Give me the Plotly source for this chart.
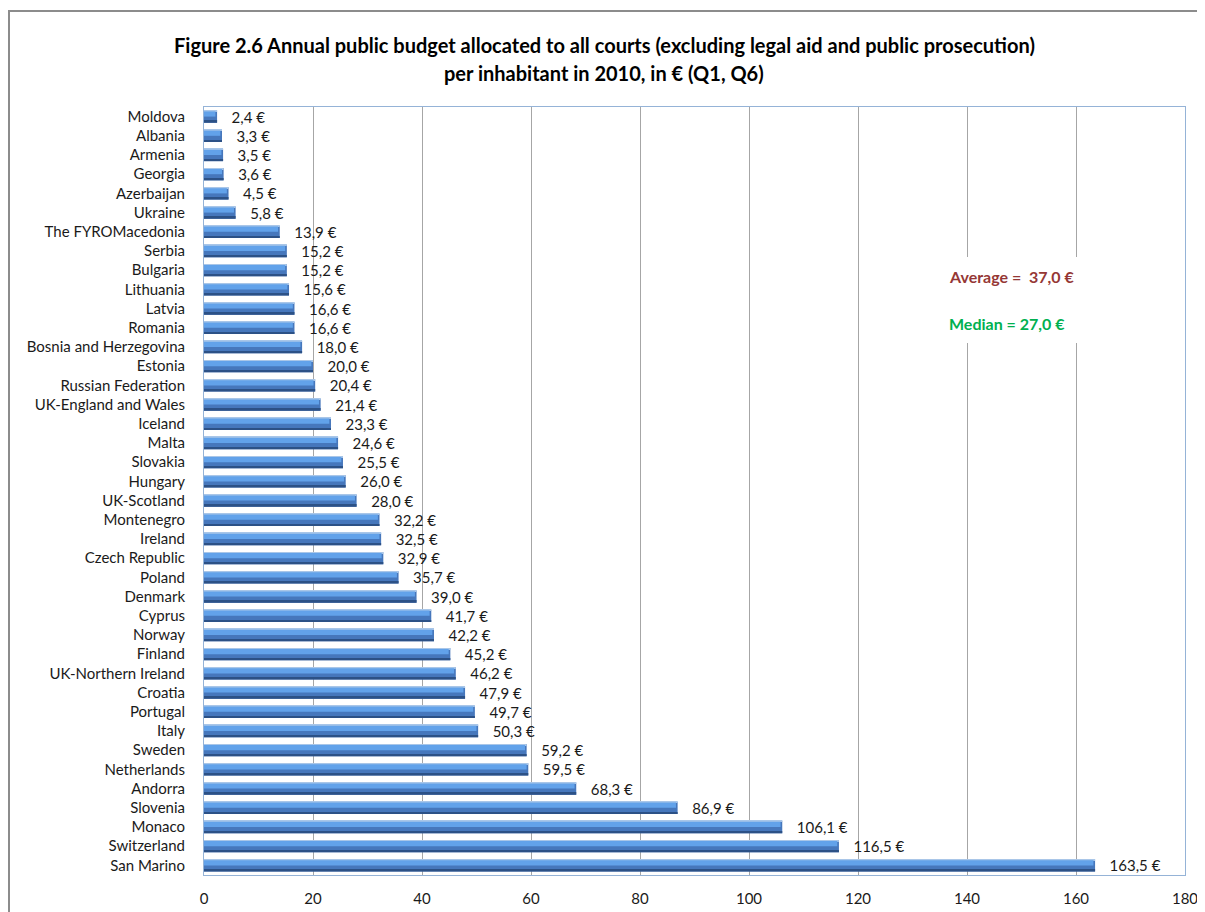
import plotly.graph_objects as go

countries = ["Moldova", "Albania", "Armenia", "Georgia", "Azerbaijan", "Ukraine",
             "The FYROMacedonia", "Serbia", "Bulgaria", "Lithuania", "Latvia", "Romania",
             "Bosnia and Herzegovina", "Estonia", "Russian Federation", "UK-England and Wales",
             "Iceland", "Malta", "Slovakia", "Hungary", "UK-Scotland", "Montenegro", "Ireland",
             "Czech Republic", "Poland", "Denmark", "Cyprus", "Norway", "Finland",
             "UK-Northern Ireland", "Croatia", "Portugal", "Italy", "Sweden", "Netherlands",
             "Andorra", "Slovenia", "Monaco", "Switzerland", "San Marino"]
values = [2.4, 3.3, 3.5, 3.6, 4.5, 5.8, 13.9, 15.2, 15.2, 15.6, 16.6, 16.6, 18.0, 20.0, 20.4,
          21.4, 23.3, 24.6, 25.5, 26.0, 28.0, 32.2, 32.5, 32.9, 35.7, 39.0, 41.7, 42.2, 45.2,
          46.2, 47.9, 49.7, 50.3, 59.2, 59.5, 68.3, 86.9, 106.1, 116.5, 163.5]
x_ticks = [0, 20, 40, 60, 80, 100, 120, 140, 160, 180]
average_text = "Average =  37,0 €"
median_text = "Median = 27,0 €"
title_line1 = "Figure 2.6 Annual public budget allocated to all courts (excluding legal aid and public prosecution)"
title_line2 = "per inhabitant in 2010, in € (Q1, Q6)"

labels = ["\u00a0\u00a0\u00a0" + f"{v:.1f}".replace(".", ",") + " €" for v in values]

FONT = "Lato, Liberation Sans, sans-serif"

# The page body has an 8px margin, so the figure is 8px smaller.
# Helpers map page pixels (plot area l=204, r=1185, t=107, b=875) to paper coords.
def px_x(p):
    return (p - 204) / 981

def px_y(p):
    return (875 - p) / 768

fig = go.Figure()
# main bar body
fig.add_trace(go.Bar(
    y=countries, x=values, orientation="h",
    width=0.64, offset=-0.32,
    marker=dict(color="#4677BC", line=dict(width=0)),
    text=labels, textposition="outside", cliponaxis=False, constraintext="none",
    textfont=dict(family=FONT, size=15, color="#1A1A1A"),
    hoverinfo="skip", showlegend=False,
))
# top light edge
fig.add_trace(go.Bar(
    y=countries, x=values, orientation="h",
    width=0.05, offset=-0.32,
    marker=dict(color="#A9C6E8", line=dict(width=0)),
    hoverinfo="skip", showlegend=False,
))
# bright band
fig.add_trace(go.Bar(
    y=countries, x=[v - 0.3 for v in values], orientation="h",
    width=0.27, offset=-0.27,
    marker=dict(color="#62A2EA", line=dict(width=0)),
    hoverinfo="skip", showlegend=False,
))
# dark bottom edge
fig.add_trace(go.Bar(
    y=countries, x=values, orientation="h",
    width=0.1, offset=0.22,
    marker=dict(color="#2C5186", line=dict(width=0)),
    hoverinfo="skip", showlegend=False,
))

fig.update_layout(
    width=1197, height=904,
    margin=dict(l=196, r=20, t=99, b=37),
    paper_bgcolor="white", plot_bgcolor="white",
    barmode="overlay",
    font=dict(family=FONT, size=15, color="#1A1A1A"),
    xaxis=dict(range=[0, 180], tickvals=x_ticks, showgrid=True, gridcolor="#A6A6A6", gridwidth=1,
               showline=True, linecolor="#95B3D7", linewidth=1, mirror=True, zeroline=False,
               ticks="", ticklabelstandoff=10, tickfont=dict(size=15), automargin=False),
    yaxis=dict(autorange="reversed", showgrid=False, showline=True, linecolor="#95B3D7",
               linewidth=1, mirror=True, ticks="", ticklabelstandoff=15, tickfont=dict(size=15),
               automargin=False),
    shapes=[
        dict(type="rect", xref="paper", yref="paper", x0=px_x(9), x1=1.3, y0=-0.2, y1=px_y(11),
             line=dict(color="#8C8C8C", width=2), fillcolor="rgba(0,0,0,0)", layer="below"),
        dict(type="rect", xref="paper", yref="paper", x0=px_x(940), x1=px_x(1085),
             y0=px_y(343), y1=px_y(257),
             line=dict(width=0), fillcolor="white", layer="above"),
    ],
    annotations=[
        dict(xref="paper", yref="paper", x=px_x(604), y=px_y(45),
             xanchor="center", yanchor="middle", showarrow=False,
             text="<b>" + title_line1 + "</b>", font=dict(family=FONT, size=20, color="#000000")),
        dict(xref="paper", yref="paper", x=px_x(604), y=px_y(73),
             xanchor="center", yanchor="middle", showarrow=False,
             text="<b>" + title_line2 + "</b>", font=dict(family=FONT, size=20, color="#000000")),
        dict(xref="paper", yref="paper", x=px_x(947), y=px_y(276), xanchor="left", yanchor="middle",
             showarrow=False, text="<b>" + average_text + "</b>",
             font=dict(family=FONT, size=16, color="#953735")),
        dict(xref="paper", yref="paper", x=px_x(947), y=px_y(323), xanchor="left", yanchor="middle",
             showarrow=False, text="<b>" + median_text + "</b>",
             font=dict(family=FONT, size=16, color="#00B050")),
    ],
)

fig.write_html("out.html")
